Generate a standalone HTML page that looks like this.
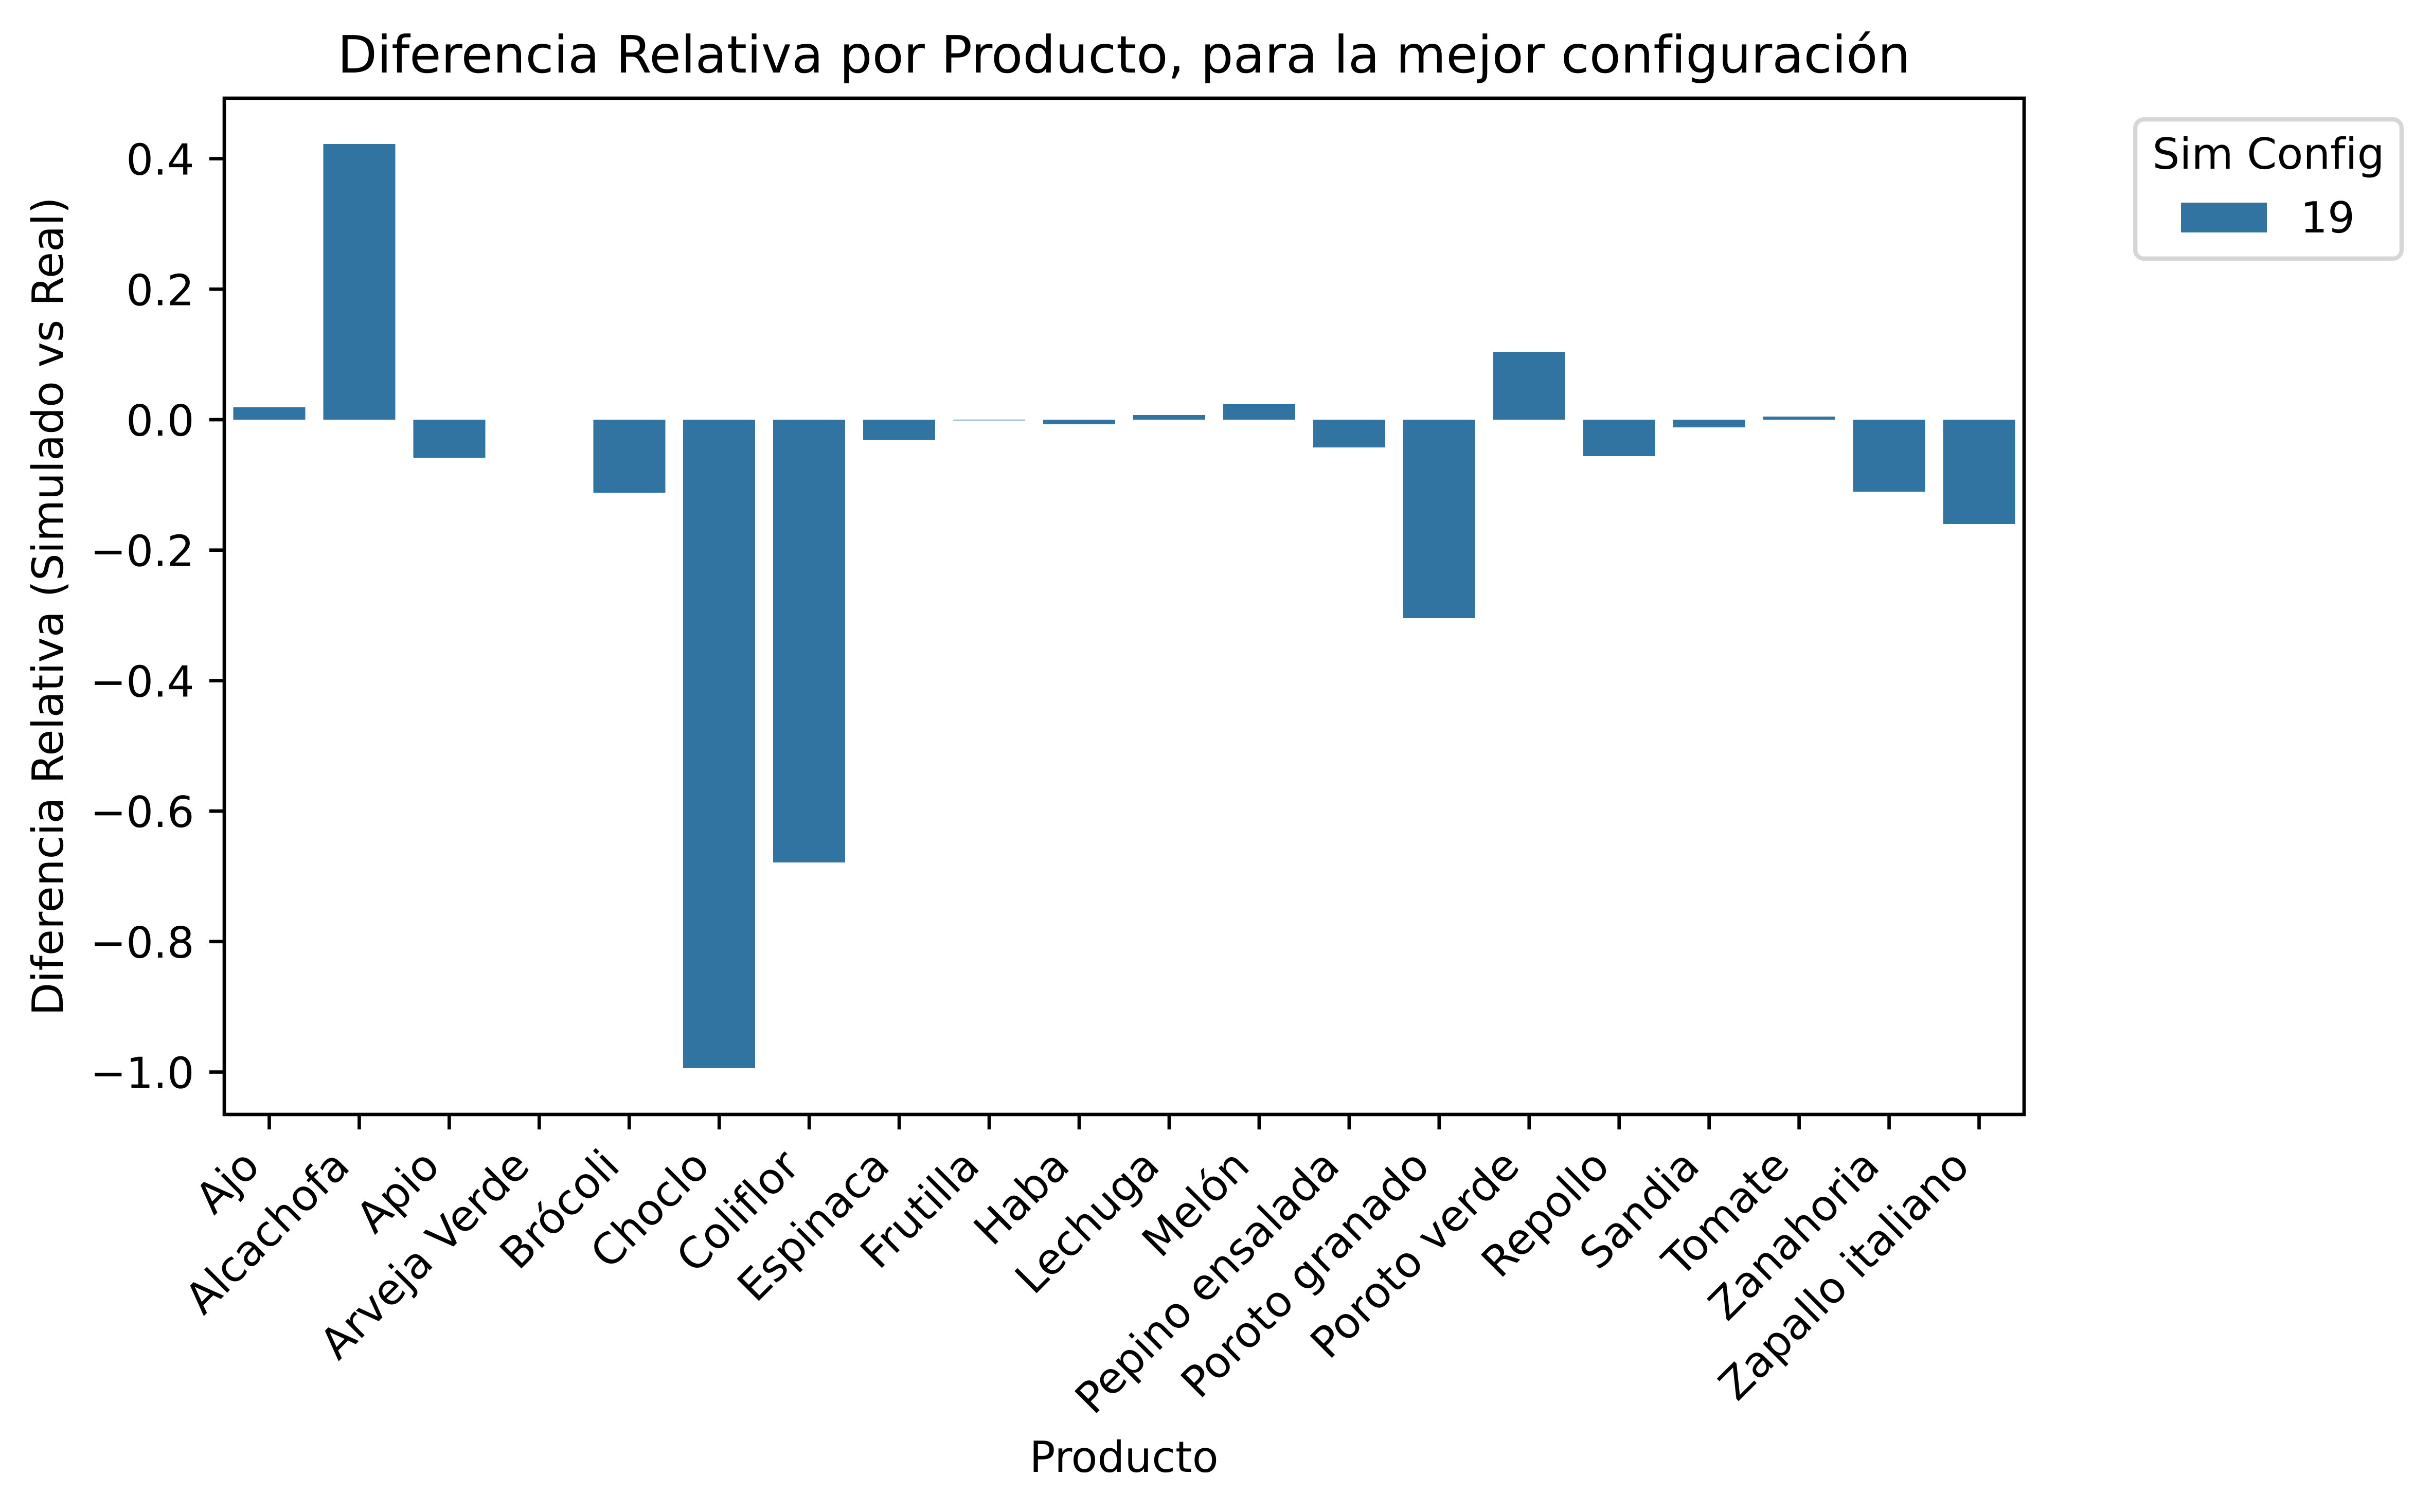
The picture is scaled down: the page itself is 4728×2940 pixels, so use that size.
<!DOCTYPE html>
<html lang="es">
<head>
<meta charset="utf-8">
<title>Diferencia Relativa por Producto</title>
<style>
html,body{margin:0;padding:0;background:#fff;width:4728px;height:2940px;overflow:hidden}
svg{display:block}
text{font-family:"DejaVu Sans","Liberation Sans",sans-serif;fill:#000;text-rendering:geometricPrecision}
</style>
</head>
<body>
<svg id="chart" xmlns="http://www.w3.org/2000/svg" width="4728" height="2940" viewBox="0 0 4728 2940">
  <rect x="0" y="0" width="4728" height="2940" fill="#ffffff"/>
  <text x="2185" y="141" font-size="100" text-anchor="middle">Diferencia Relativa por Producto, para la mejor configuración</text>
  <g id="bars"></g>
  <g id="x-ticks"></g>
  <g id="y-ticks"></g>
  <rect x="436" y="191" width="3499" height="1976" fill="none" stroke="#000" stroke-width="6.67" stroke-linejoin="miter"/>
  <text transform="translate(122 1179) rotate(-90)" font-size="83.33" text-anchor="middle">Diferencia Relativa (Simulado vs Real)</text>
  <text x="2185" y="2862" font-size="83.33" text-anchor="middle">Producto</text>
  <g>
    <rect x="4151.2" y="232.2" width="517.6" height="270.6" rx="16.7" ry="16.7" fill="#ffffff" stroke="#d6d6d6" stroke-width="8.33"/>
    <text x="4410" y="328" font-size="83.33" text-anchor="middle">Sim Config</text>
    <rect x="4240" y="394" width="167" height="58" fill="#3274a1" shape-rendering="crispEdges"/>
    <text x="4472" y="452" font-size="83.33">19</text>
  </g>
</svg>
<script>
const categories = ["Ajo","Alcachofa","Apio","Arveja Verde","Brócoli","Choclo","Coliflor","Espinaca","Frutilla","Haba","Lechuga","Melón","Pepino ensalada","Poroto granado","Poroto verde","Repollo","Sandia","Tomate","Zanahoria","Zapallo italiano"];
const seriesValues = [0.0189,0.4225,-0.0583,0,-0.112,-0.994,-0.6788,-0.031,-0.001,-0.0071,0.0071,0.0236,-0.0426,-0.3043,0.104,-0.056,-0.0118,0.0047,-0.1104,-0.16];
const yTickValues = [-1.0,-0.8,-0.6,-0.4,-0.2,0.0,0.2,0.4];
const yTickLabels = ["−1.0","−0.8","−0.6","−0.4","−0.2","0.0","0.2","0.4"];

const NS = "http://www.w3.org/2000/svg";
const plot = {left:436, right:3935, top:191, bottom:2167};
const yMin = -1.0650, yMax = 0.4927;
const barFraction = 0.8;
const tickLen = 29.17, tickPad = 29.17;

function xScale(i){
  return plot.left + (i + 0.5) * (plot.right - plot.left) / categories.length;
}
function bandwidth(){
  return (plot.right - plot.left) / categories.length;
}
function yScale(v){
  return plot.bottom - (v - yMin) * (plot.bottom - plot.top) / (yMax - yMin);
}

const barsGroup = document.getElementById("bars");
const xTicksGroup = document.getElementById("x-ticks");
const yTicksGroup = document.getElementById("y-ticks");

categories.forEach(function(cat, i){
  const v = seriesValues[i];
  const cx = xScale(i);
  const w = bandwidth() * barFraction;
  const bar = document.createElementNS(NS, "rect");
  
  
  bar.setAttribute("x", cx - w / 2);
  bar.setAttribute("y", Math.min(yScale(v), yScale(0)));
  bar.setAttribute("width", w);
  bar.setAttribute("height", Math.abs(yScale(v) - yScale(0)));
  bar.setAttribute("fill", "#3274a1");
  bar.setAttribute("shape-rendering", "crispEdges");
  barsGroup.appendChild(bar);

  const tick = document.createElementNS(NS, "line");
  
  
  tick.setAttribute("x1", cx);
  tick.setAttribute("x2", cx);
  tick.setAttribute("y1", plot.bottom);
  tick.setAttribute("y2", plot.bottom + tickLen);
  tick.setAttribute("stroke", "#000");
  tick.setAttribute("stroke-width", "6.67");
  xTicksGroup.appendChild(tick);

  const label = document.createElementNS(NS, "text");
  
  
  const ax = cx - 14.8;
  const ay = plot.bottom + tickLen + tickPad + 46.3;
  label.setAttribute("transform", "translate(" + ax + " " + ay + ") rotate(-45)");
  label.setAttribute("font-size", "83.33");
  label.setAttribute("text-anchor", "end");
  label.textContent = cat;
  xTicksGroup.appendChild(label);
});

yTickValues.forEach(function(v, i){
  const y = yScale(v);
  const tick = document.createElementNS(NS, "line");
  
  
  tick.setAttribute("x1", plot.left);
  tick.setAttribute("x2", plot.left - tickLen);
  tick.setAttribute("y1", y);
  tick.setAttribute("y2", y);
  tick.setAttribute("stroke", "#000");
  tick.setAttribute("stroke-width", "6.67");
  yTicksGroup.appendChild(tick);

  const label = document.createElementNS(NS, "text");
  
  
  label.setAttribute("x", plot.left - tickLen - tickPad);
  label.setAttribute("y", y + 31);
  label.setAttribute("font-size", "83.33");
  label.setAttribute("text-anchor", "end");
  label.textContent = yTickLabels[i];
  yTicksGroup.appendChild(label);
});
</script>
</body>
</html>
